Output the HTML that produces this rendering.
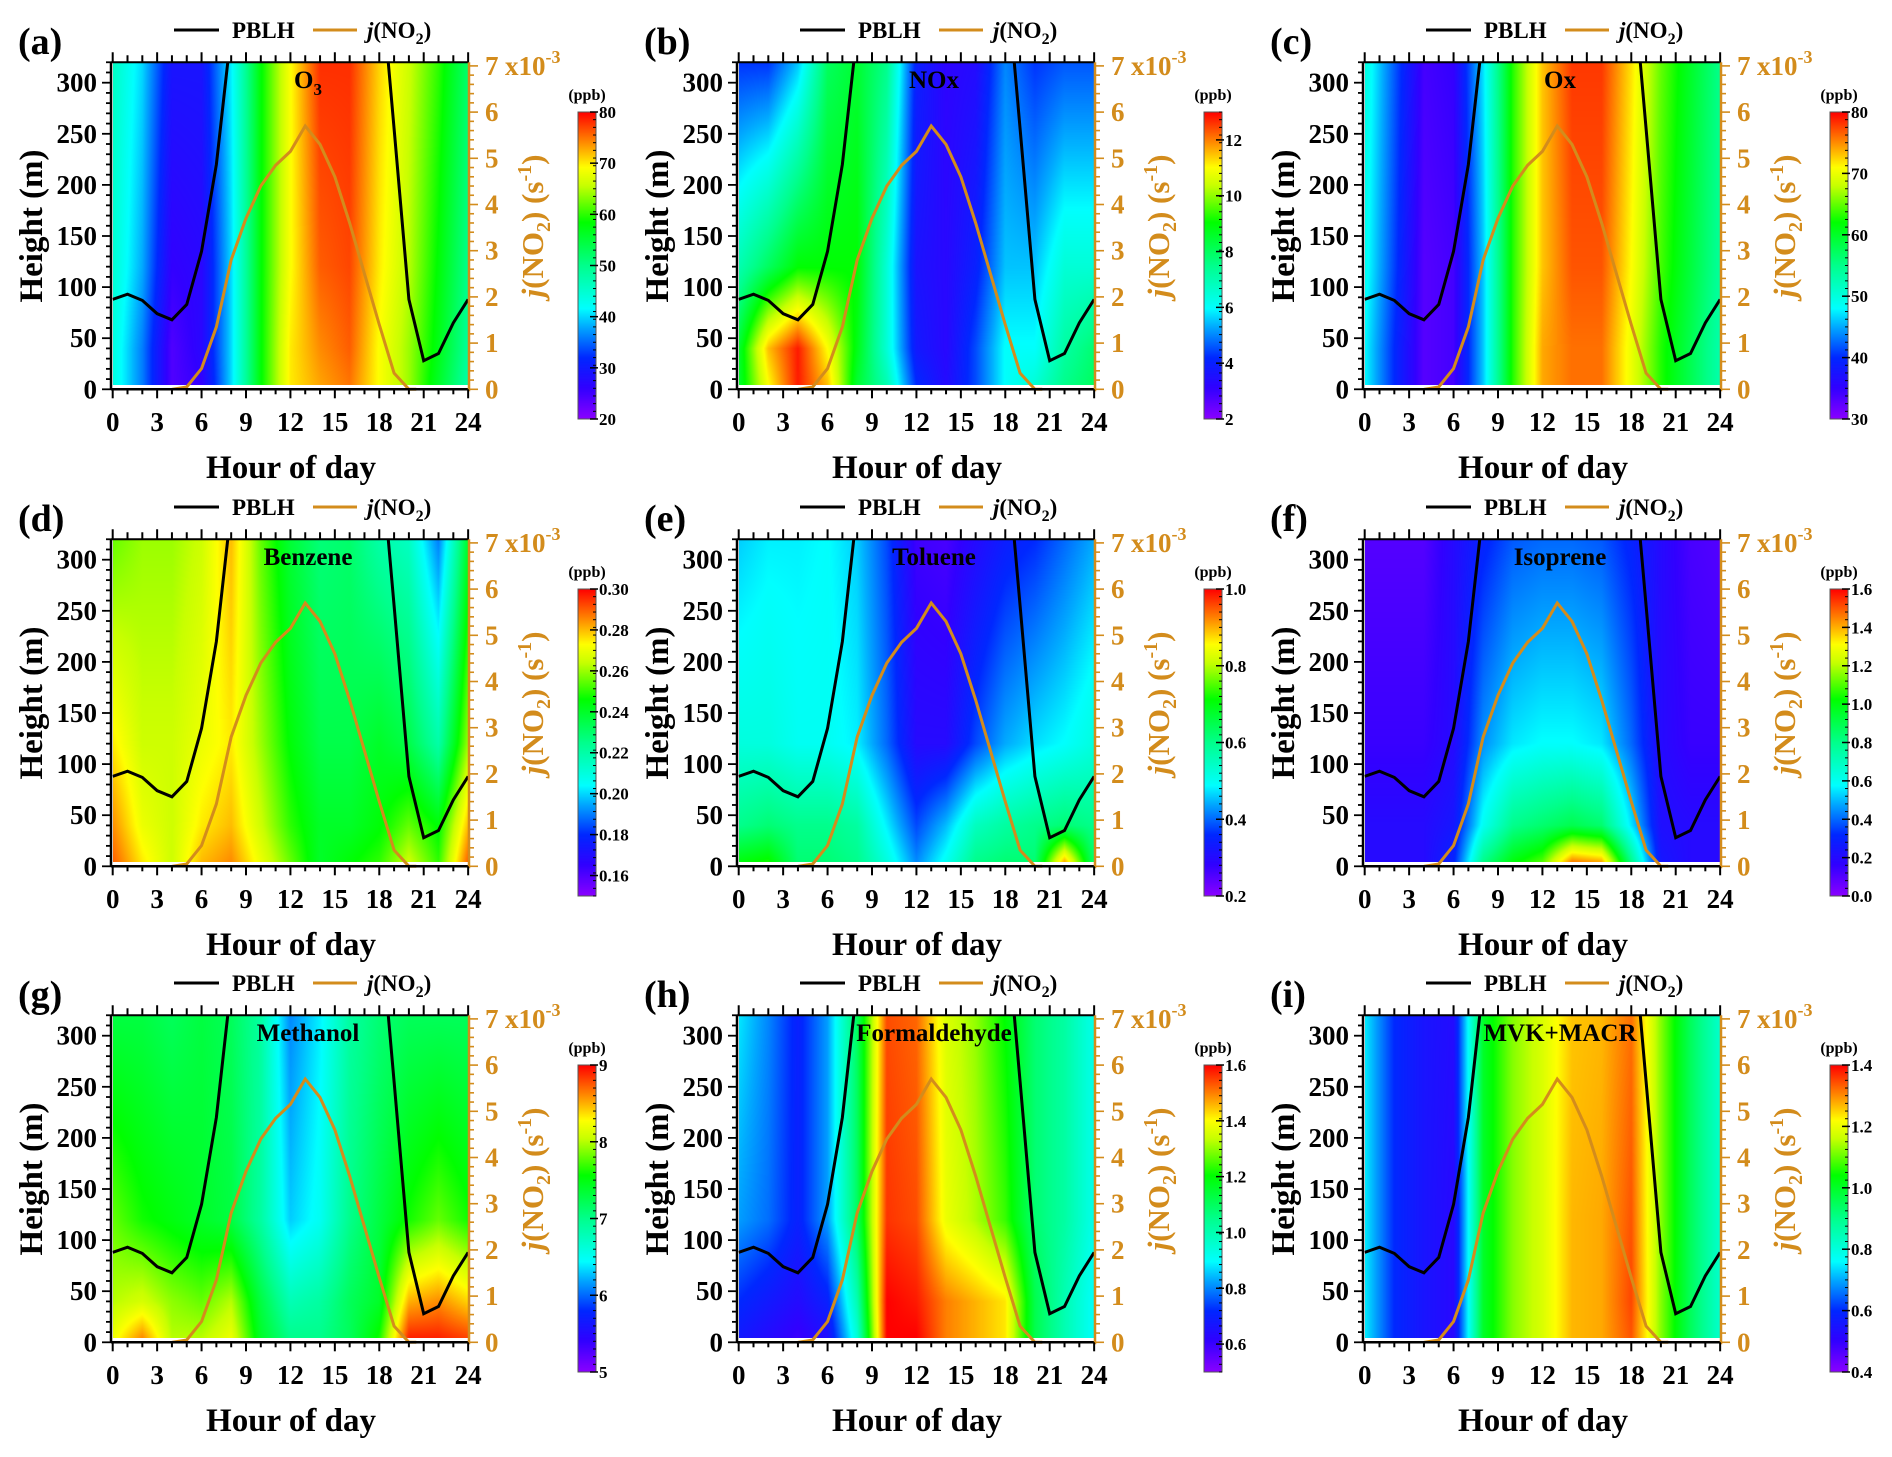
<!DOCTYPE html>
<html><head><meta charset="utf-8">
<style>
html,body{margin:0;padding:0;background:#fff;}
#wrap{position:relative;width:1892px;height:1457px;overflow:hidden;font-family:"Liberation Serif",serif;}
canvas{position:absolute;}
svg{position:absolute;left:0;top:0;}
text{font-family:"Liberation Serif",serif;font-weight:bold;}
</style></head>
<body>
<div id="wrap">
<svg id="svg" width="1892" height="1457" xmlns="http://www.w3.org/2000/svg"></svg>
</div>
<script>
// ---- shared data ----
const hours = [0,2,4,6,8,10,12,14,16,18,20,22,24];
const levels = [5,40,120,320];
const pblhHours = [0,1,2,3,4,5,6,7,8,9,17,18,19,20,21,22,23,24];
const pblhValues = [88,93,87,74,68,83,135,220,350,800,800,420,255,88,28,35,65,88];
const jHours = [4,5,6,7,8,9,10,11,12,13,14,15,16,17,18,19,20,20.5];
const jValues = [0,0.05,0.45,1.35,2.8,3.7,4.4,4.85,5.15,5.7,5.3,4.6,3.6,2.5,1.4,0.35,0,0];
const xTicks = [0,3,6,9,12,15,18,21,24];
const yTicks = [0,50,100,150,200,250,300];
const rTicks = [0,1,2,3,4,5,6,7];

// ---- panel data (rows = levels 5,40,120,320 m; cols = hours) ----
const o3 = [[44,36,24,26,40,58,70,73,75,69,64,56,48],[44,36,24,27,40,58,70,74,76,69,64,57,49],[45,38,26,27,40,58,69,76,77,70,65,58,50],[46,40,29,29,41,58,69,78,78,71,66,60,52]];
const nox = [[8.5,11,12.8,11.5,8.5,7,4.2,3.4,4.5,6,6.5,7.5,8],[8.5,11.5,12.8,11,8.8,6.5,3.8,3.3,4.5,6,6,7.2,7.8],[7,8,9,9,9,6.5,3.6,3.3,4,5.5,5.5,6.5,6.5],[4.3,4.3,5.5,8,8.5,7.5,4,3.2,3.4,5,4.3,4.6,4.6]];
const ox_ = [[48,40,33,34,46,63,74,76,76,70,63,58,53],[48,40,33,34,46,63,74,76,76,70,63,58,53],[49,41,33,34,46,63,73,77,77,71,64,59,54],[50,42,34,35,47,63,73,78,78,72,65,60,55]];
const benzene = [[0.29,0.275,0.265,0.28,0.285,0.27,0.255,0.24,0.245,0.25,0.265,0.25,0.29],[0.285,0.27,0.265,0.275,0.28,0.265,0.25,0.24,0.24,0.245,0.255,0.245,0.28],[0.275,0.265,0.265,0.27,0.275,0.26,0.245,0.235,0.235,0.24,0.235,0.22,0.26],[0.255,0.26,0.26,0.265,0.28,0.255,0.238,0.228,0.23,0.22,0.215,0.19,0.24]];
const toluene = [[0.7,0.72,0.62,0.62,0.6,0.52,0.42,0.5,0.6,0.62,0.62,0.9,0.62],[0.6,0.62,0.6,0.6,0.58,0.48,0.38,0.45,0.55,0.58,0.6,0.62,0.6],[0.52,0.52,0.5,0.5,0.48,0.4,0.3,0.3,0.38,0.44,0.47,0.49,0.52],[0.46,0.48,0.48,0.49,0.46,0.38,0.27,0.26,0.3,0.34,0.36,0.4,0.44]];
const isoprene = [[0.2,0.2,0.2,0.3,0.8,1.0,1.1,1.45,1.4,0.8,0.25,0.2,0.2],[0.2,0.2,0.2,0.25,0.6,0.8,0.85,0.9,0.85,0.55,0.22,0.2,0.2],[0.15,0.15,0.15,0.2,0.45,0.55,0.58,0.58,0.55,0.4,0.2,0.15,0.15],[0.1,0.1,0.1,0.2,0.3,0.38,0.4,0.4,0.38,0.3,0.2,0.12,0.1]];
const methanol = [[8.2,8.6,8.0,8.0,8.2,7.4,7.0,7.0,7.2,7.6,8.9,8.9,8.8],[8.0,8.1,7.9,7.8,8.0,7.3,6.8,6.9,7.2,7.4,8.5,8.6,8.4],[7.8,7.6,7.5,7.4,7.3,6.9,6.3,6.5,7.0,7.3,7.6,7.8,7.6],[7.3,7.3,7.2,7.3,7.2,6.9,6.1,6.4,6.9,7.1,7.2,7.2,7.2]];
const hcho = [[0.68,0.64,0.6,0.65,0.95,1.6,1.6,1.5,1.46,1.42,1.12,1.0,0.9],[0.72,0.68,0.64,0.7,1.0,1.6,1.58,1.5,1.46,1.42,1.12,1.0,0.9],[0.82,0.78,0.7,0.82,1.1,1.56,1.54,1.38,1.32,1.24,1.08,1.02,0.92],[0.88,0.8,0.7,0.82,1.1,1.54,1.52,1.36,1.3,1.2,1.08,1.02,0.92]];
const mvk = [[0.75,0.6,0.55,0.52,1.0,1.12,1.18,1.27,1.28,1.34,1.12,0.95,0.82],[0.75,0.6,0.55,0.52,1.0,1.12,1.18,1.27,1.28,1.35,1.12,0.95,0.82],[0.75,0.6,0.55,0.52,1.0,1.12,1.18,1.27,1.28,1.34,1.12,0.95,0.82],[0.75,0.6,0.55,0.53,1.0,1.12,1.18,1.26,1.27,1.32,1.12,0.95,0.82]];

const panelLabels = ['(a)','(b)','(c)','(d)','(e)','(f)','(g)','(h)','(i)'];
const speciesNames = ['O3','NOx','Ox','Benzene','Toluene','Isoprene','Methanol','Formaldehyde','MVK+MACR'];
const panelGrids = [o3,nox,ox_,benzene,toluene,isoprene,methanol,hcho,mvk];
const cbMin = [20,2,30,0.15,0.2,0,5,0.5,0.4];
const cbMax = [80,13,80,0.30,1.0,1.6,9,1.6,1.4];
const cbTickLabels = [
 ['20','30','40','50','60','70','80'],
 ['2','4','6','8','10','12'],
 ['30','40','50','60','70','80'],
 ['0.16','0.18','0.20','0.22','0.24','0.26','0.28','0.30'],
 ['0.2','0.4','0.6','0.8','1.0'],
 ['0.0','0.2','0.4','0.6','0.8','1.0','1.2','1.4','1.6'],
 ['5','6','7','8','9'],
 ['0.6','0.8','1.0','1.2','1.4','1.6'],
 ['0.4','0.6','0.8','1.0','1.2','1.4']];

// colormap stops (position, r,g,b)
const cmap = [[0,139,0,255],[0.1,50,0,255],[0.2,0,40,255],[0.3,0,170,255],[0.36,0,255,255],[0.5,0,255,140],[0.64,0,255,0],[0.76,200,255,0],[0.82,255,255,0],[0.9,255,140,0],[1,255,0,0]];
function color(t){t=Math.max(0,Math.min(1,t));for(let i=1;i<cmap.length;i++){if(t<=cmap[i][0]){const a=cmap[i-1],b=cmap[i];const f=(t-a[0])/(b[0]-a[0]);return [a[1]+(b[1]-a[1])*f,a[2]+(b[2]-a[2])*f,a[3]+(b[3]-a[3])*f];}}return [255,0,0];}

const NS='http://www.w3.org/2000/svg';
const svg=document.getElementById('svg');
const wrap=document.getElementById('wrap');
function mk(tag,attrs,parent){const e=document.createElementNS(NS,tag);for(const k in attrs)e.setAttribute(k,attrs[k]);(parent||svg).appendChild(e);return e;}
const ORANGE='#d38c1c';

function interp(xs,ys,x){if(x<=xs[0])return ys[0];for(let i=1;i<xs.length;i++){if(x<=xs[i]){const f=(x-xs[i-1])/(xs[i]-xs[i-1]);return ys[i-1]+(ys[i]-ys[i-1])*f;}}return ys[ys.length-1];}

function drawPanel(p){
  const col=p%3,row=Math.floor(p/3);
  const ox=[0,626,1252][col], oy=[0,477,953][row];
  const X=h=>ox+112.7+h*14.81;
  const Y=m=>oy+389.3-m*1.022;
  const YJ=v=>oy+389.3-v*46.2;
  const grid=panelGrids[p], vmin=cbMin[p], vmax=cbMax[p];
  const g=mk('g',{});
  
  

  const cx0=Math.round(X(0)), cx1=Math.round(X(24)), cy0=Math.round(Y(320)), cy1=Math.round(Y(4));
  const W=cx1-cx0, H=cy1-cy0;
  const cv=document.createElement('canvas');
  cv.width=W;cv.height=H;cv.style.left=cx0+'px';cv.style.top=cy0+'px';
  
  
  wrap.insertBefore(cv,svg);
  const ctx=cv.getContext('2d');const img=ctx.createImageData(W,H);
  for(let py=0;py<H;py++){
    const m=(oy+389.3-(cy0+py+0.5))/1.022;
    const colVals=hours.map((_,ci)=>interp(levels,grid.map(r=>r[ci]),m));
    for(let px=0;px<W;px++){
      const h=(cx0+px+0.5-ox-112.7)/14.81;
      const v=interp(hours,colVals,h);
      const c=color((v-vmin)/(vmax-vmin));
      const k=(py*W+px)*4;img.data[k]=c[0];img.data[k+1]=c[1];img.data[k+2]=c[2];img.data[k+3]=255;
    }
  }
  ctx.putImageData(img,0,0);

  const cid='clip'+p;
  const cp=mk('clipPath',{id:cid},g);mk('rect',{x:X(0),y:Y(320),width:X(24)-X(0),height:Y(0)-Y(320)},cp);

  const pb=mk('polyline',{points:pblhHours.map((h,i)=>X(h)+','+Y(pblhValues[i])).join(' '),fill:'none',stroke:'#000','stroke-width':3,'clip-path':'url(#'+cid+')'},g);
  
  
  const jl=mk('polyline',{points:jHours.map((h,i)=>X(h)+','+YJ(jValues[i])).join(' '),fill:'none',stroke:ORANGE,'stroke-width':3},g);
  
  

  const L=ox+111,R=ox+469,T=Y(320),B=Y(0);
  mk('line',{x1:L,y1:T,x2:R,y2:T,stroke:'#000','stroke-width':2},g);
  mk('line',{x1:L,y1:T,x2:L,y2:B,stroke:'#000','stroke-width':2.5},g);
  mk('line',{x1:L,y1:B,x2:R,y2:B,stroke:'#000','stroke-width':2.5},g);
  mk('line',{x1:R,y1:T,x2:R,y2:B+2,stroke:ORANGE,'stroke-width':2.5},g);
  for(let h=0;h<=24;h++){
    const maj=h%3===0;
    mk('line',{x1:X(h),y1:B,x2:X(h),y2:B+(maj?9:5),stroke:'#000','stroke-width':2},g);
    mk('line',{x1:X(h),y1:T,x2:X(h),y2:T-(maj?10:7),stroke:'#000','stroke-width':2},g);
  }
  xTicks.forEach(h=>{const t=mk('text',{x:X(h),y:oy+431,'font-size':27,'text-anchor':'middle'},g);t.textContent=h;
    });
  for(let m=0;m<=320;m+=10){const maj=m%50===0;mk('line',{x1:L,y1:Y(m),x2:L-(maj?9:5),y2:Y(m),stroke:'#000','stroke-width':1.8},g);}
  yTicks.forEach(m=>{const t=mk('text',{x:ox+97,y:Y(m)+9,'font-size':27,'text-anchor':'end'},g);t.textContent=m;
    });
  for(let v=0;v<=7.05;v+=0.2){const maj=Math.abs(v-Math.round(v))<0.01;mk('line',{x1:R,y1:YJ(v),x2:R+(maj?9:5),y2:YJ(v),stroke:ORANGE,'stroke-width':1.6},g);}
  rTicks.forEach(v=>{const t=mk('text',{x:ox+485,y:YJ(v)+9,'font-size':27,fill:ORANGE},g);t.textContent=v;
    });
  const xe=mk('text',{x:ox+505,y:YJ(7)+9,'font-size':27,fill:ORANGE},g);
  xe.innerHTML='x10<tspan dy="-12" font-size="18">-3</tspan>';
  

  const xt=mk('text',{x:ox+291,y:oy+478,'font-size':33,'text-anchor':'middle'},g);xt.textContent='Hour of day';
  
  const yt=mk('text',{x:0,y:0,'font-size':33,'text-anchor':'middle',transform:`translate(${ox+42},${oy+226}) rotate(-90)`},g);yt.textContent='Height (m)';
  
  const rt=mk('text',{x:0,y:0,'font-size':31,'text-anchor':'middle',fill:ORANGE,transform:`translate(${ox+543},${oy+226}) rotate(-90)`},g);
  rt.innerHTML='<tspan font-style="italic">j</tspan>(NO<tspan dy="7" font-size="20">2</tspan><tspan dy="-7">) (s</tspan><tspan dy="-12" font-size="20">-1</tspan><tspan dy="12">)</tspan>';
  

  const sp=mk('text',{x:ox+308,y:oy+88,'font-size':25,'text-anchor':'middle'},g);
  if(speciesNames[p]==='O3'){sp.innerHTML='O<tspan dy="7" font-size="17">3</tspan>';}else sp.textContent=speciesNames[p];
  

  const pl=mk('text',{x:ox+18,y:oy+54,'font-size':38},g);pl.textContent=panelLabels[p];
  

  const lg=mk('g',{},g);
  
  mk('line',{x1:ox+174,y1:oy+30,x2:ox+219,y2:oy+30,stroke:'#000','stroke-width':3},lg);
  const l1=mk('text',{x:ox+232,y:oy+38,'font-size':23},lg);l1.textContent='PBLH';
  mk('line',{x1:ox+313,y1:oy+30,x2:ox+357,y2:oy+30,stroke:ORANGE,'stroke-width':3},lg);
  const l2=mk('text',{x:ox+367,y:oy+38,'font-size':23},lg);
  l2.innerHTML='<tspan font-style="italic">j</tspan>(NO<tspan dy="6" font-size="16">2</tspan><tspan dy="-6">)</tspan>';

  const bx=ox+578,bw=18,by0=oy+112,by1=oy+419;
  const cb=document.createElement('canvas');cb.width=bw;cb.height=by1-by0;cb.style.left=bx+'px';cb.style.top=by0+'px';
  
  wrap.insertBefore(cb,svg);
  const c2=cb.getContext('2d');
  for(let y=0;y<cb.height;y++){const c=color(1-(y+0.5)/cb.height);c2.fillStyle=`rgb(${c[0]|0},${c[1]|0},${c[2]|0})`;c2.fillRect(0,y,bw,1);}
  mk('rect',{x:bx,y:by0,width:bw,height:by1-by0,fill:'none',stroke:'#555','stroke-width':1},g);
  const CY=v=>by1-(v-vmin)/(vmax-vmin)*(by1-by0);
  const nm=40;for(let i=0;i<=nm;i++){const yy=by0+i*(by1-by0)/nm;mk('line',{x1:bx+bw-3,y1:yy,x2:bx+bw,y2:yy,stroke:'#000','stroke-width':1},g);}
  cbTickLabels[p].forEach(s=>{const v=parseFloat(s);mk('line',{x1:bx+bw-6,y1:CY(v),x2:bx+bw+2,y2:CY(v),stroke:'#000','stroke-width':1.5},g);
    const t=mk('text',{x:bx+bw+3,y:CY(v)+6,'font-size':17},g);t.textContent=s;
    });
  const ub=mk('text',{x:bx+9,y:oy+100,'font-size':16,'text-anchor':'middle'},g);ub.textContent='(ppb)';
  
}
for(let p=0;p<9;p++)drawPanel(p);
</script>
</body></html>
